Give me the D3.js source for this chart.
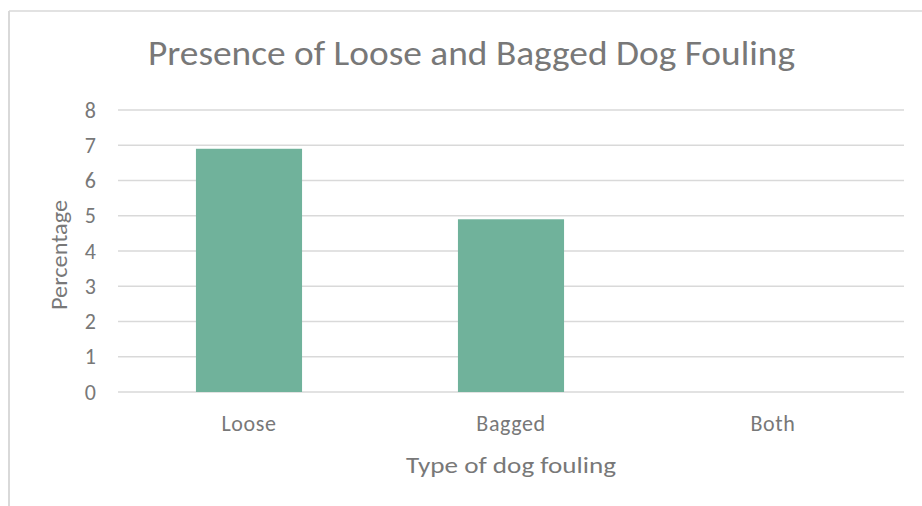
<!DOCTYPE html>
<html>
<head>
<meta charset="utf-8">
<script src="https://cdn.jsdelivr.net/npm/d3@7"></script>
<style>
  html, body { margin: 0; padding: 0; background: #ffffff; }
  svg { display: block; }
  text { font-family: Carlito, Calibri, Lato, "Open Sans", sans-serif; fill: #787878; }
</style>
</head>
<body>
<script>
// ---- data ----
const chartTitle = "Presence of Loose and Bagged Dog Fouling";
const categories = ["Loose", "Bagged", "Both"];
const percentages = [6.9, 4.9, 0];
const yTicks = [0, 1, 2, 3, 4, 5, 6, 7, 8];
const xAxisTitle = "Type of dog fouling";
const yAxisTitle = "Percentage";

const W = 922, H = 506;
const plot = { left: 118, right: 904, top: 110, bottom: 392 };

const svg = d3.select("body").append("svg").attr("width", W).attr("height", H);

// chart border (top + left visible)
svg.append("line").attr("x1", 9).attr("x2", W).attr("y1", 11).attr("y2", 11)
  .attr("stroke", "#d9d9d9").attr("stroke-width", 1.5);
svg.append("line").attr("x1", 9).attr("x2", 9).attr("y1", 11).attr("y2", H)
  .attr("stroke", "#d9d9d9").attr("stroke-width", 2);

const x = d3.scaleBand().domain(categories).range([plot.left, plot.right])
  .paddingInner(0.595).paddingOuter(0.2975);
const y = d3.scaleLinear().domain([0, 8]).range([plot.bottom, plot.top]);

// gridlines
svg.append("g").selectAll("line").data(yTicks).join("line")
  .attr("x1", plot.left).attr("x2", plot.right)
  .attr("y1", d => y(d)).attr("y2", d => y(d))
  .attr("stroke", "#d9d9d9").attr("stroke-width", 1.6);

// bars
svg.append("g").selectAll("rect").data(categories).join("rect")
  .attr("x", d => x(d))
  .attr("width", x.bandwidth())
  .attr("y", (d, i) => y(percentages[i]))
  .attr("height", (d, i) => y(0) - y(percentages[i]))
  .attr("fill", "#70b29b");

// y tick labels
const yAxis = d3.axisLeft(y).tickValues(yTicks).tickSize(0).tickPadding(0);
const gy = svg.append("g").attr("transform", `translate(96,0)`).call(yAxis);
gy.select(".domain").remove();
gy.selectAll("text").style("font-size", "22px").attr("fill", "#787878")
  .style("font-family", "Carlito, Calibri, Lato, sans-serif");

// x category labels
const xAxis = d3.axisBottom(x).tickSize(0).tickPadding(0);
const gx = svg.append("g").attr("transform", `translate(0,${plot.bottom})`).call(xAxis);
gx.select(".domain").remove();
gx.selectAll("text").attr("dy", null).attr("y", 39).style("font-size", "22px")
  .style("letter-spacing", "0.6px")
  .attr("fill", "#787878").style("font-family", "Carlito, Calibri, Lato, sans-serif");

// title
svg.append("text").attr("x", 471.5).attr("y", 65).attr("text-anchor", "middle")
  .style("font-size", "35px").style("font-weight", 300)
  .attr("textLength", 647).attr("lengthAdjust", "spacingAndGlyphs")
  .text(chartTitle);

// axis titles
svg.append("text").attr("x", (plot.left + plot.right) / 2).attr("y", 473)
  .attr("text-anchor", "middle").style("font-size", "23px")
  .attr("textLength", 210).attr("lengthAdjust", "spacingAndGlyphs")
  .text(xAxisTitle);
svg.append("text")
  .attr("transform", `translate(67,${(plot.top + plot.bottom) / 2 + 4}) rotate(-90)`)
  .attr("text-anchor", "middle").style("font-size", "23px")
  .attr("textLength", 110).attr("lengthAdjust", "spacingAndGlyphs")
  .text(yAxisTitle);
</script>
</body>
</html>
